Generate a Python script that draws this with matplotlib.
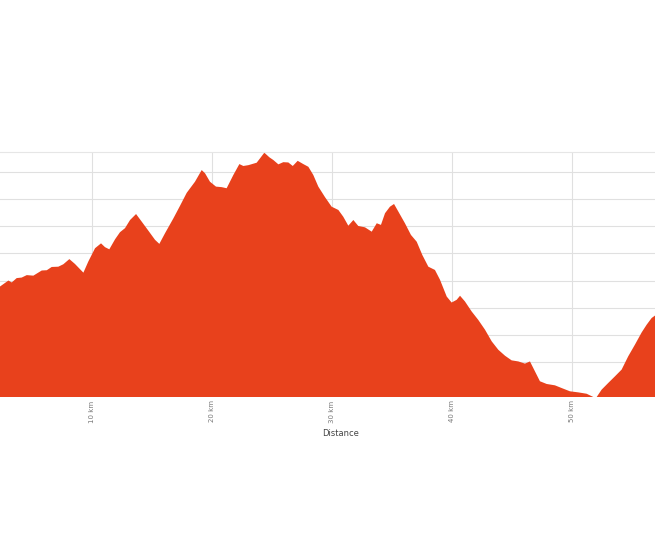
import matplotlib
matplotlib.use("Agg")
import matplotlib.pyplot as plt

# профиль высот: расстояние (км) и высота (м)
distance_km = [
    2.33, 3.03, 3.31, 3.72, 4.14, 4.56, 5.11, 5.81, 6.23, 6.64, 7.19, 7.61,
    8.11, 8.58, 9.28, 9.69, 10.25, 10.75, 11.08, 11.44, 11.92, 12.33, 12.75,
    13.17, 13.67, 14.14, 14.69, 15.25, 15.61, 16.08, 16.78, 17.33, 17.89,
    18.58, 19.14, 19.42, 19.83, 20.33, 20.81, 21.22, 21.78, 22.28, 22.61,
    23.03, 23.72, 24.0, 24.36, 24.78, 25.11, 25.53, 25.94, 26.36, 26.73,
    27.14, 27.61, 28.03, 28.44, 28.86, 29.42, 29.97, 30.53, 30.94, 31.36,
    31.78, 32.19, 32.75, 33.31, 33.73, 34.08, 34.42, 34.83, 35.17, 35.53,
    36.08, 36.58, 37.06, 37.53, 38.03, 38.58, 39.0, 39.56, 39.97, 40.39,
    40.67, 41.08, 41.64, 42.19, 42.75, 43.31, 43.86, 44.42, 44.97, 45.53,
    46.08, 46.5, 46.92, 47.33, 47.89, 48.58, 49.14, 49.83, 50.53, 51.22,
    51.78, 52.06, 52.47, 53.03, 53.58, 54.14, 54.69, 55.25, 55.81, 56.22,
    56.64, 56.92,
]
elevation_m = [
    478, 500, 493, 509, 511, 520, 518, 537, 538, 550, 551, 560,
    579, 561, 529, 570, 619, 637, 623, 615, 652, 678, 693,
    723, 745, 717, 684, 650, 635, 674, 729, 775, 823,
    864, 907, 895, 864, 846, 844, 840, 889, 929, 922,
    925, 934, 950, 971, 954, 944, 928, 936, 935, 922,
    941, 929, 919, 889, 846, 807, 772, 760, 735, 702,
    723, 701, 696, 680, 711, 705, 748, 772, 782, 754,
    711, 668, 643, 594, 551, 539, 503, 441, 419, 429,
    444, 423, 386, 355, 319, 276, 245, 223, 206, 202,
    194, 202, 165, 129, 119, 114, 104, 92, 88, 83,
    71, 71, 98, 123, 147, 172, 221, 264, 309, 337,
    362, 371,
]
x_ticks = [10, 20, 30, 40, 50]
x_tick_labels = ["10 km", "20 km", "30 km", "40 km", "50 km"]
y_grid = [200, 300, 400, 500, 600, 700, 800, 900]

fig = plt.figure(figsize=(6.55, 5.45), dpi=100)
ax = fig.add_axes([0, 148 / 545, 1, 245 / 545])

ax.fill_between(distance_km, elevation_m, 0, color="#e8411c", linewidth=0, zorder=2)

ax.set_xlim(2.33, 56.92)
ax.set_ylim(71, 973.5)

ax.set_xticks(x_ticks)
ax.set_xticklabels(x_tick_labels, rotation=90, fontsize=5, color="#777777", va="top")
ax.set_yticks(y_grid)
ax.set_yticklabels([])
ax.tick_params(axis="both", length=0, pad=2.5)

ax.grid(True, color="#e0e0e0", linewidth=0.8, zorder=0)
ax.set_axisbelow(True)

for side in ["left", "right", "bottom"]:
    ax.spines[side].set_visible(False)
ax.spines["top"].set_color("#e6e6e6")
ax.spines["top"].set_linewidth(0.8)

ax.set_xlabel("Distance", fontsize=6, color="#444444")
ax.xaxis.set_label_coords(0.52, -0.13)

fig.savefig("out.png", dpi=100)
